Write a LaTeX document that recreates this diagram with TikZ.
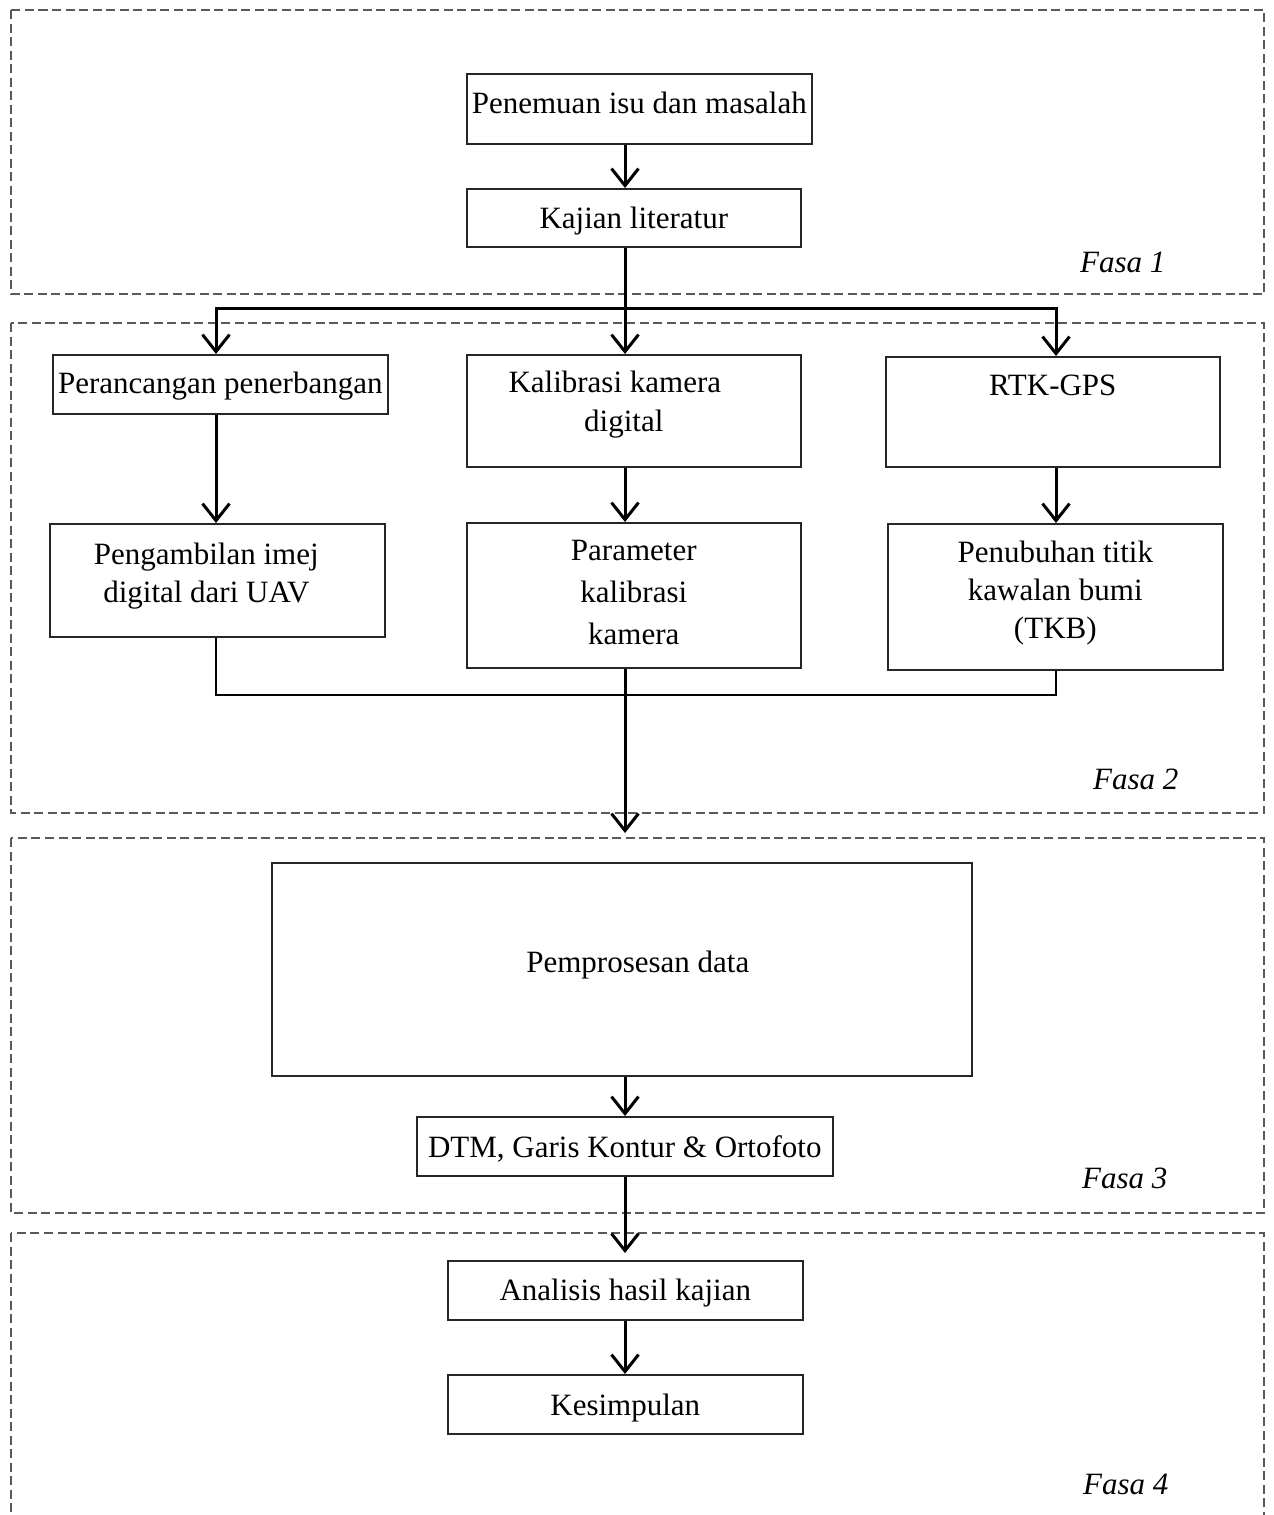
\documentclass[tikz,border=0pt]{standalone}
\usepackage{fontspec}
\setmainfont{Liberation Serif}
\usetikzlibrary{arrows.meta}
\newcommand{\ml}[1]{\begin{tabular}[t]{@{}c@{}}#1\end{tabular}}
\begin{document}
\begin{tikzpicture}[x=1pt,y=-1pt,
  box/.style={draw=black!85, line width=1.6pt, inner sep=0pt, anchor=north west,
    font=\fontsize{31}{39}\selectfont},
  phase/.style={draw=black!65, line width=1.3pt, dash pattern=on 9pt off 4.5pt},
  fasa/.style={anchor=base west, inner sep=0pt, font=\fontsize{31}{39}\selectfont\itshape},
  arr/.style={line width=3pt, -{Straight Barb[length=17pt,width=27pt,line width=3pt]}},
  mline/.style={line width=2.4pt}]
\useasboundingbox (0,0) rectangle (1274,1515);

% phases
\draw[phase] (11,10) rectangle (1264,294);
\draw[phase] (11,323) rectangle (1264,813);
\draw[phase] (11,838) rectangle (1264,1213);
\draw[phase] (11,1233) rectangle (1264,1540);
\node[fasa] (f1) at (1080,272) {Fasa 1};
\node[fasa] (f2) at (1093,789) {Fasa 2};
\node[fasa] (f3) at (1082,1188) {Fasa 3};
\node[fasa] (f4) at (1083,1494) {Fasa 4};

% columns
\coordinate (spine) at (625,0);
\coordinate (colL) at (216,0);
\coordinate (colR) at (1056,0);
\coordinate (bus) at (0,308);
\coordinate (merge) at (0,695);
\coordinate (in3) at (625,833);
\coordinate (in4) at (625,1253);

% boxes
\node[box, minimum width=345pt, text height=40pt, text depth=30pt] (pen) at (466,73) {Penemuan isu dan masalah};
\node[box, minimum width=334pt, text height=40pt, text depth=18pt] (kaj) at (466,188) {Kajian literatur};
\node[box, minimum width=335pt, text height=39pt, text depth=20pt] (per) at (52,354) {Perancangan penerbangan};
\node[box, minimum width=334pt, text height=38pt, text depth=74pt] (kal) at (466,354) {\ml{Kalibrasi kamera\hspace*{38pt}\\digital\hspace*{20pt}}};
\node[box, minimum width=334pt, text height=39pt, text depth=71pt] (rtk) at (885,356) {RTK-GPS};
\node[box, minimum width=335pt, text height=41pt, text depth=72pt, font=\fontsize{31}{38}\selectfont] (pga) at (49,523) {\ml{Pengambilan imej\hspace*{22pt}\\digital dari UAV\hspace*{22pt}}};
\node[box, minimum width=334pt, text height=38pt, text depth=107pt, font=\fontsize{31}{42}\selectfont] (par) at (466,522) {\ml{Parameter\\kalibrasi\\kamera}};
\node[box, minimum width=335pt, text height=39pt, text depth=107pt, font=\fontsize{31}{38}\selectfont] (pnb) at (887,523) {\ml{Penubuhan titik\\kawalan bumi\\(TKB)}};
\node[box, minimum width=700pt, text height=110pt, text depth=103pt] (pem) at (271,862) {\hspace*{32pt}Pemprosesan data};
\node[box, minimum width=416pt, text height=41pt, text depth=18pt] (dtm) at (416,1116) {DTM, Garis Kontur \& Ortofoto};
\node[box, minimum width=355pt, text height=40pt, text depth=19pt] (ana) at (447,1260) {Analisis hasil kajian};
\node[box, minimum width=355pt, text height=41pt, text depth=18pt] (kes) at (447,1374) {Kesimpulan};

% connectors
\draw[arr] (pen.south -| spine) -- (kaj.north -| spine);
\draw[arr] (kaj.south -| spine) -- (kal.north -| spine);
\draw[arr] (bus -| spine) -| (per.north -| colL);
\draw[arr] (bus -| spine) -| (rtk.north -| colR);
\draw[arr] (per.south -| colL) -- (pga.north -| colL);
\draw[arr] (kal.south -| spine) -- (par.north -| spine);
\draw[arr] (rtk.south -| colR) -- (pnb.north -| colR);
\draw[mline] (pga.south -| colL) |- (merge -| colR) -- (pnb.south -| colR);
\draw[arr] (par.south -| spine) -- (in3);
\draw[arr] (pem.south -| spine) -- (dtm.north -| spine);
\draw[arr] (dtm.south -| spine) -- (in4);
\draw[arr] (ana.south -| spine) -- (kes.north -| spine);
\end{tikzpicture}
\end{document}
